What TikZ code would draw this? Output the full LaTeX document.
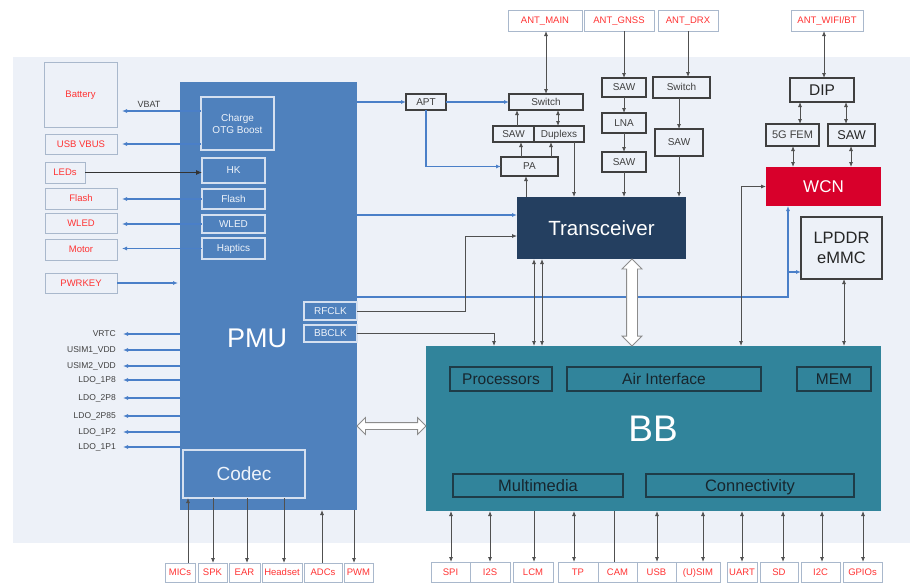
\documentclass[tikz,border=0pt]{standalone}
\usepackage{fontspec}
\setmainfont{Liberation Sans}
\usetikzlibrary{arrows.meta,shapes.arrows,calc}
\definecolor{panel}{HTML}{EDF1F8}
\definecolor{pmublue}{HTML}{4F81BD}
\definecolor{pmuline}{HTML}{D5E0F0}
\definecolor{pmutext}{HTML}{EEF3FA}
\definecolor{trxnavy}{HTML}{243F60}
\definecolor{bbteal}{HTML}{31849B}
\definecolor{bbline}{HTML}{1E3C48}
\definecolor{bbtext}{HTML}{17262E}
\definecolor{wcnred}{HTML}{D8002B}
\definecolor{boxgray}{HTML}{404040}
\definecolor{txtgray}{HTML}{404040}
\definecolor{redtxt}{HTML}{FF3333}
\definecolor{rborder}{HTML}{A9B8CC}
\definecolor{lgray}{HTML}{505050}
\definecolor{blueline}{HTML}{4A7FC8}
\definecolor{hgray}{HTML}{8C8C8C}
\begin{document}
\begin{tikzpicture}[x=1pt,y=-1pt,
  nb/.style={inner sep=0pt, outer sep=0pt, align=center},
  one/.style={text height=6.9pt, text depth=0pt},
  oneb/.style={text height=11.3pt, text depth=0pt},
  gbox/.style={nb, one, draw=boxgray, line width=1.2pt, fill=panel, text=txtgray, font=\fontsize{10}{12}\selectfont},
  rbox/.style={nb, one, draw=rborder, line width=0.8pt, text=redtxt, font=\fontsize{9.5}{11}\selectfont},
  pbox/.style={nb, draw=pmuline, line width=1.1pt, text=pmutext, font=\fontsize{10}{12}\selectfont},
  bsub/.style={nb, oneb, draw=bbline, line width=1.1pt, text=bbtext, font=\fontsize{15.5}{18}\selectfont},
  con/.style={draw=lgray, line width=0.8pt},
  ar/.style={-{Latex[length=5pt,width=4pt]}},
  dar/.style={{Latex[length=5pt,width=4pt]}-{Latex[length=5pt,width=4pt]}},
  bl/.style={draw=blueline, line width=1.3pt},
  lbl/.style={inner sep=0pt, text=txtgray, font=\fontsize{8.5}{10}\selectfont, anchor=east},
  harrow/.style={double arrow, draw=hgray, fill=white, line width=0.8pt, double arrow tip angle=90}
]
\useasboundingbox (0,0) rectangle (915,582);
\fill[white] (0,0) rectangle (915,582);
\fill[panel] (13,57) rectangle (910,543);

% ---------- big blocks ----------
\node[nb, fill=pmublue, minimum width=177pt, minimum height=428pt] (pmu) at (268.5,296) {};
\node[nb, text=white, font=\fontsize{27}{30}\selectfont] (pmulbl) at (257,338) {PMU};
\node[nb, fill=bbteal, minimum width=455pt, minimum height=165pt] (bb) at (653.5,428.5) {};
\node[nb, text=white, font=\fontsize{37}{40}\selectfont] (bblbl) at (653,429) {BB};
\node[nb, fill=trxnavy, text=white, font=\fontsize{20.5}{24}\selectfont, minimum width=169pt, minimum height=62pt] (trx) at (601.5,228) {Transceiver};
\node[nb, fill=wcnred, text=white, font=\fontsize{17}{20}\selectfont, minimum width=115pt, minimum height=39pt] (wcn) at (823.5,186.5) {WCN};
\node[nb, draw=boxgray, line width=1.2pt, fill=panel, font=\fontsize{16.5}{20}\selectfont, text=black!85, minimum width=81pt, minimum height=62pt] (lpddr) at (841.5,248) {LPDDR\\eMMC};

% ---------- left column ----------
\node[rbox, minimum width=73pt, minimum height=65pt] (battery) at (80.5,94.5) {Battery};
\node[rbox, minimum width=72pt, minimum height=20pt] (usbvbus) at (81,144) {USB VBUS};
\node[rbox, minimum width=40pt, minimum height=21pt] (leds) at (65,172.5) {LEDs};
\node[rbox, minimum width=72pt, minimum height=21pt] (flashL) at (81,198.5) {Flash};
\node[rbox, minimum width=72pt, minimum height=20pt] (wledL) at (81,223.5) {WLED};
\node[rbox, minimum width=72pt, minimum height=21pt] (motor) at (81,249.5) {Motor};
\node[rbox, minimum width=72pt, minimum height=20pt] (pwrkey) at (81,283) {PWRKEY};

% ---------- PMU inner ----------
\node[pbox, minimum width=73pt, minimum height=53pt] (charge) at (237.5,123.5) {Charge\\OTG Boost};
\node[pbox, one, minimum width=63pt, minimum height=25pt] (hk) at (233.5,170.5) {HK};
\node[pbox, one, minimum width=63pt, minimum height=20pt] (flashP) at (233.5,199) {Flash};
\node[pbox, one, minimum width=63pt, minimum height=18pt] (wledP) at (233.5,224) {WLED};
\node[pbox, one, minimum width=63pt, minimum height=21pt] (haptics) at (233.5,248.5) {Haptics};
\node[pbox, one, minimum width=53pt, minimum height=18pt] (rfclk) at (330.5,311) {RFCLK};
\node[pbox, one, minimum width=53pt, minimum height=17pt] (bbclk) at (330.5,333.5) {BBCLK};
\node[pbox, font=\fontsize{19}{22}\selectfont, minimum width=122pt, minimum height=48pt] (codec) at (244,474) {Codec};

% ---------- left connectors ----------
\node[nb, text=txtgray, font=\fontsize{9}{10}\selectfont] (vbat) at (149,104) {VBAT};
\draw[bl,ar,shorten >=5pt] (charge.west |- 0,111) -- (battery.east |- 0,111);
\draw[bl,ar,shorten >=5pt] (charge.west |- usbvbus.east) -- (usbvbus.east);
\draw[draw=black!80, line width=0.9pt, -{Latex[length=6pt,width=5pt]}] (leds.east) -- (hk.west |- leds.east);
\draw[bl,ar,shorten >=5pt] (flashP.west) -- (flashL.east |- flashP.west);
\draw[bl,ar,shorten >=5pt] (wledP.west) -- (wledL.east |- wledP.west);
\draw[bl,ar,shorten >=5pt] (haptics.west) -- (motor.east |- haptics.west);
\draw[bl,ar,shorten >=2pt] (pwrkey.east) -- (pmu.west |- pwrkey.east);

% LDO labels
\node[lbl] (vrtc) at (116,334) {VRTC};
\node[lbl] (usim1) at (116,350) {USIM1\_VDD};
\node[lbl] (usim2) at (116,366) {USIM2\_VDD};
\node[lbl] (ldo18) at (116,380) {LDO\_1P8};
\node[lbl] (ldo28) at (116,398) {LDO\_2P8};
\node[lbl] (ldo285) at (116,416) {LDO\_2P85};
\node[lbl] (ldo12) at (116,432) {LDO\_1P2};
\node[lbl] (ldo11) at (116,447) {LDO\_1P1};
\foreach \n in {vrtc,usim1,usim2,ldo18,ldo28,ldo285,ldo12,ldo11}{
  \draw[bl,ar,shorten >=7pt] (pmu.west |- \n.east) -- (\n.east);
}

% ---------- PMU bottom ----------
\node[rbox, minimum width=30pt, minimum height=19pt] (mics) at (180,572.5) {MICs};
\node[rbox, minimum width=29pt, minimum height=19pt] (spk) at (212.5,572.5) {SPK};
\node[rbox, minimum width=31pt, minimum height=19pt] (ear) at (244.5,572.5) {EAR};
\node[rbox, minimum width=40pt, minimum height=19pt] (headset) at (282,572.5) {Headset};
\node[rbox, minimum width=38pt, minimum height=19pt] (adcs) at (323,572.5) {ADCs};
\node[rbox, minimum width=29pt, minimum height=19pt] (pwm) at (358.5,572.5) {PWM};
\draw[con,ar] (mics.north -| 188,0) -- (codec.south -| 188,0);
\draw[con,ar] (codec.south -| 213,0) -- (spk.north -| 213,0);
\draw[con,ar] (codec.south -| 247,0) -- (ear.north -| 247,0);
\draw[con,ar] (codec.south -| 284,0) -- (headset.north -| 284,0);
\draw[con,ar] (adcs.north -| 322,0) -- (pmu.south -| 322,0);
\draw[con,ar] (pmu.south -| 354,0) -- (pwm.north -| 354,0);

% ---------- BB inner ----------
\node[bsub, minimum width=102pt, minimum height=24pt] (proc) at (501,379) {Processors};
\node[bsub, minimum width=194pt, minimum height=24pt] (air) at (664,379) {Air Interface};
\node[bsub, minimum width=74pt, minimum height=24pt] (mem) at (834,379) {MEM};
\node[bsub, font=\fontsize{16.5}{19}\selectfont, text height=11.9pt, minimum width=170pt, minimum height=23pt] (mm) at (538,485.5) {Multimedia};
\node[bsub, font=\fontsize{16.5}{19}\selectfont, text height=11.9pt, minimum width=208pt, minimum height=23pt] (conn) at (750,485.5) {Connectivity};

% ---------- BB bottom ----------
\node[rbox, minimum width=39pt, minimum height=20pt] (spi) at (450.5,572) {SPI};
\node[rbox, minimum width=40pt, minimum height=20pt] (i2s) at (490,572) {I2S};
\node[rbox, minimum width=40pt, minimum height=20pt] (lcm) at (533,572) {LCM};
\node[rbox, minimum width=40pt, minimum height=20pt] (tp) at (578,572) {TP};
\node[rbox, minimum width=39pt, minimum height=20pt] (cam) at (617.5,572) {CAM};
\node[rbox, minimum width=39pt, minimum height=20pt] (usb) at (656.5,572) {USB};
\node[rbox, minimum width=44pt, minimum height=20pt] (usim) at (698,572) {(U)SIM};
\node[rbox, minimum width=30pt, minimum height=20pt] (uart) at (742,572) {UART};
\node[rbox, minimum width=38pt, minimum height=20pt] (sd) at (779,572) {SD};
\node[rbox, minimum width=39pt, minimum height=20pt] (i2c) at (820.5,572) {I2C};
\node[rbox, minimum width=39pt, minimum height=20pt] (gpios) at (862.5,572) {GPIOs};
\draw[con,dar] (bb.south -| 451,0) -- (spi.north -| 451,0);
\draw[con,dar] (bb.south -| 490,0) -- (i2s.north -| 490,0);
\draw[con,ar] (bb.south -| 534,0) -- (lcm.north -| 534,0);
\draw[con,dar] (bb.south -| 574,0) -- (tp.north -| 574,0);
\draw[con] (bb.south -| 614,0) -- (cam.north -| 614,0);
\draw[con,dar] (bb.south -| 657,0) -- (usb.north -| 657,0);
\draw[con,dar] (bb.south -| 703,0) -- (usim.north -| 703,0);
\draw[con,dar] (bb.south -| 742,0) -- (uart.north -| 742,0);
\draw[con,dar] (bb.south -| 783,0) -- (sd.north -| 783,0);
\draw[con,dar] (bb.south -| 822,0) -- (i2c.north -| 822,0);
\draw[con,dar] (bb.south -| 863,0) -- (gpios.north -| 863,0);

% ---------- RF front end ----------
\node[gbox, minimum width=40pt, minimum height=16pt] (apt) at (426,102) {APT};
\node[gbox, minimum width=74pt, minimum height=16pt] (swm) at (546,102) {Switch};
\node[gbox, minimum width=41pt, minimum height=16pt] (sawm) at (513.5,134) {SAW};
\node[gbox, minimum width=50pt, minimum height=16pt] (dup) at (559,134) {Duplexs};
\node[gbox, minimum width=57pt, minimum height=19pt] (pa) at (529.5,166.5) {PA};
\node[rbox, fill=white, minimum width=74pt, minimum height=21pt] (antmain) at (545,20.5) {ANT\_MAIN};
\node[rbox, fill=white, minimum width=70pt, minimum height=21pt] (antgnss) at (619,20.5) {ANT\_GNSS};
\node[rbox, fill=white, minimum width=60pt, minimum height=21pt] (antdrx) at (688,20.5) {ANT\_DRX};
\node[gbox, minimum width=44pt, minimum height=19pt] (sawg1) at (624,87.5) {SAW};
\node[gbox, minimum width=44pt, minimum height=20pt] (lna) at (624,123) {LNA};
\node[gbox, minimum width=44pt, minimum height=20pt] (sawg2) at (624,162) {SAW};
\node[gbox, minimum width=57pt, minimum height=21pt] (swd) at (681.5,87.5) {Switch};
\node[gbox, minimum width=48pt, minimum height=27pt] (sawd) at (679,142.5) {SAW};
\node[rbox, fill=white, minimum width=72pt, minimum height=21pt] (antwifi) at (827,20.5) {ANT\_WIFI/BT};
\node[nb, draw=boxgray, line width=1.2pt, fill=panel, text=black!85, font=\fontsize{15.5}{18}\selectfont, minimum width=64pt, minimum height=24pt] (dip) at (822,90) {DIP};
\node[nb, draw=boxgray, line width=1.2pt, fill=panel, text=txtgray, font=\fontsize{11}{13}\selectfont, minimum width=53pt, minimum height=22pt] (fem) at (792.5,135) {5G FEM};
\node[nb, draw=boxgray, line width=1.2pt, fill=panel, text=black!85, font=\fontsize{12.7}{15}\selectfont, minimum width=47pt, minimum height=22pt] (sawr) at (851.5,135) {SAW};

% blue power lines
\draw[bl,ar] (pmu.east |- apt.west) -- (apt.west);
\draw[bl,ar] (apt.east) -- (swm.west);
\draw[bl,ar] (apt.south) |- (pa.west);
\draw[bl,ar] (pmu.east |- 0,215) -- (trx.west |- 0,215);
\draw[bl,ar] (pmu.east |- 0,297) -| (wcn.south -| 788,0);
\coordinate (br) at (788,272);
\draw[bl,ar] (br) -- (lpddr.west |- br);

% main path
\draw[con,dar] (antmain.south -| swm.north) -- (swm.north);
\draw[con,ar] (sawm.north -| 517,0) -- (swm.south -| 517,0);
\draw[con,dar] (dup.north -| 558,0) -- (swm.south -| 558,0);
\draw[con,ar] (pa.north -| 521,0) -- (sawm.south -| 521,0);
\draw[con,ar] (pa.north -| 551,0) -- (dup.south -| 551,0);
\draw[con,ar] (trx.north -| 526,0) -- (pa.south -| 526,0);
\draw[con,ar] (dup.south -| 574,0) -- (trx.north -| 574,0);
% GNSS
\draw[con,ar] (antgnss.south -| sawg1.north) -- (sawg1.north);
\draw[con,ar] (sawg1.south) -- (lna.north);
\draw[con,ar] (lna.south) -- (sawg2.north);
\draw[con,ar] (sawg2.south) -- (trx.north -| sawg2.south);
% DRX
\draw[con,ar] (antdrx.south) -- (swd.north -| antdrx.south);
\draw[con,ar] (swd.south -| sawd.north) -- (sawd.north);
\draw[con,ar] (sawd.south) -- (trx.north -| sawd.south);
% WIFI
\draw[con,dar] (antwifi.south -| 824,0) -- (dip.north -| 824,0);
\draw[con,dar] (dip.south -| 800,0) -- (fem.north -| 800,0);
\draw[con,dar] (dip.south -| 846,0) -- (sawr.north -| 846,0);
\draw[con,dar] (fem.south -| 793,0) -- (wcn.north -| 793,0);
\draw[con,dar] (sawr.south -| 851,0) -- (wcn.north -| 851,0);

% clocks and links
\draw[con,ar] (rfclk.east) -| (465,236) -- (trx.west |- 465,236);
\draw[con,ar] (bbclk.east) -| (bb.north -| 494,0);
\draw[con,dar] (bb.north -| 741,0) |- (wcn.west);
\draw[con,dar] (lpddr.south -| 844,0) -- (bb.north -| 844,0);
\draw[con,dar] (trx.south -| 534,0) -- (bb.north -| 534,0);
\draw[con,dar] (trx.south -| 542,0) -- (bb.north -| 542,0);

% hollow arrows
\node[harrow, minimum height=69pt, minimum width=16pt, inner sep=3pt, double arrow head extend=5pt] (pmubb) at (391.5,426) {};
\node[harrow, rotate=90, minimum height=87pt, minimum width=19pt, inner sep=5pt, double arrow head extend=4.5pt] (trxbb) at (632,302.5) {};
\end{tikzpicture}
\end{document}
